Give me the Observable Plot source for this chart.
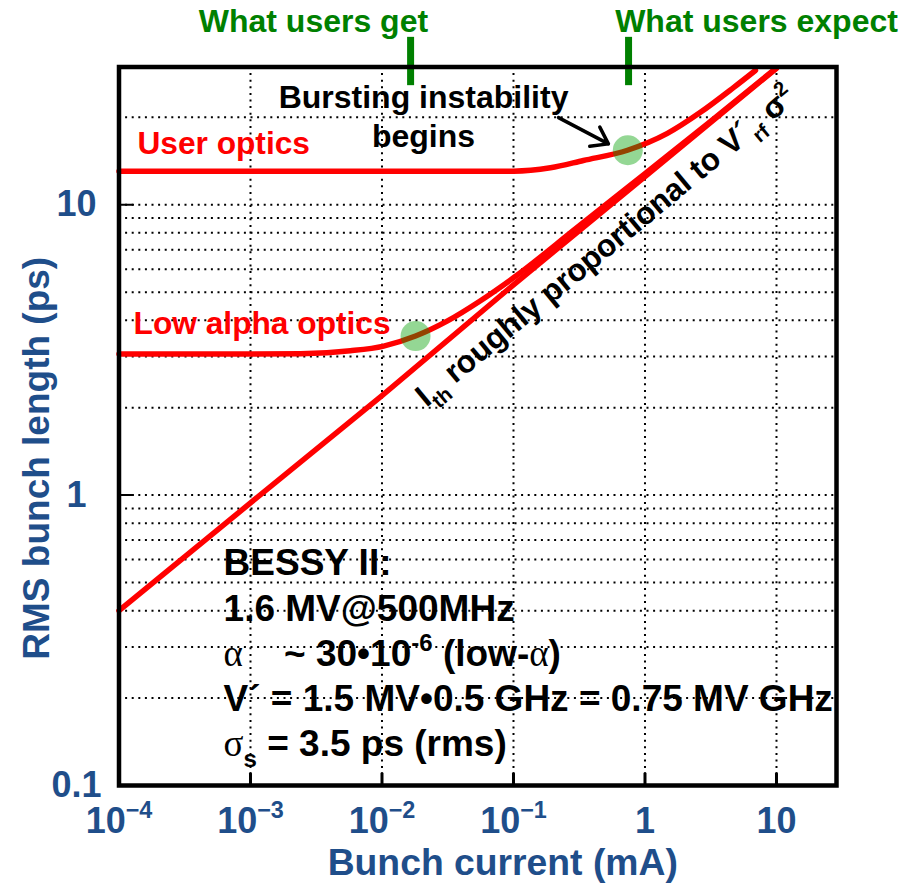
<!DOCTYPE html>
<html><head><meta charset="utf-8">
<script src="https://cdn.jsdelivr.net/npm/d3@7"></script>
<script src="https://cdn.jsdelivr.net/npm/@observablehq/plot@0.6"></script>
<style>
html,body{margin:0;padding:0;background:#fff;}
#chart svg text{white-space:pre;}
</style></head><body><div id="chart"></div>
<script>
// ---- data (bunch current in mA, RMS bunch length in ps) ----
const thresholdCurrent = [1e-4, 1e-3, 1e-2, 1e-1, 1, 10];
const thresholdLength  = [0.40, 0.94, 2.2, 5.3, 12.5, 29.5];

const lowAlphaCurrent = [1e-4, 1e-3, 0.0024, 0.00575, 0.0103, 0.018, 0.0315, 0.0561, 0.1, 0.3, 1, 3, 10];
const lowAlphaLength  = [3.06, 3.06, 3.07, 3.14, 3.26, 3.53, 3.98, 4.67, 5.6, 8.3, 12.8, 19.0, 29.6];

const userCurrent = [1e-4, 1e-3, 1e-2, 0.1, 0.191, 0.34, 0.736, 1.48, 2.64, 4.71, 6.92];
const userLength  = [13.05, 13.05, 13.05, 13.05, 13.4, 14.2, 15.4, 17.6, 20.8, 25.3, 29.0];

const onsetCurrent = [0.018, 0.74];
const onsetLength  = [3.53, 15.4];

const markerCurrent = [0.0165, 0.75];          // "What users get" / "What users expect"
const markerLabels  = ["What users get", "What users expect"];

const xTickValues = [1e-4, 1e-3, 1e-2, 1e-1, 1, 10];
const xTickLabels = ["10^{−4}", "10^{−3}", "10^{−2}", "10^{−1}", "1", "10"];
const xGridValues = [1e-3, 1e-2, 1e-1, 1, 10];
const yTickValues = [0.1, 1, 10];
const yTickLabels = ["0.1", "1", "10"];
const yGridValues = [0.2,0.3,0.4,0.5,0.6,0.7,0.8,0.9,1,2,3,4,5,6,7,8,9,10,20];

const bessyLines = [
  "BESSY II:",
  "1.6 MV@500MHz",
  "%{α}    ~ 30•10^{-6} (low-%{α})",
  "V´ = 1.5 MV•0.5 GHz = 0.75 MV GHz",
  "%{σ}_{s} = 3.5 ps (rms)"
];

// annotation anchors, in data units (mA, ps)
const curveLabels = [
  {text: "User optics", x: 1.38e-4, y: 15.0},
  {text: "Low alpha optics", x: 1.29e-4, y: 3.59}
];
const burstLabels = [
  {text: "Bursting instability", x: 0.0207, y: 21.6},
  {text: "begins", x: 0.0207, y: 15.85}
];
const markerLabelPos = [{x: 0.00301, y: 39.2}, {x: 7.05, y: 39.2}];
const bessyPos = {x: 6.24e-4, y: [0.530, 0.368, 0.257, 0.180, 0.126]};
const slopeLabel = {text: "I_{th} roughly proportional to V´_{rf} σ^{2}", x: 0.0218, y: 2.0};
const arrowData = [{x1: 0.22, y1: 19.95, x2: 0.527, y2: 16.2}];

// ---- build ----
const BLUE = "#1f4e8a", RED = "#ff0000", GREEN = "#008000";
const FONT = "Liberation Sans, Arial, Helvetica, sans-serif";
const zip = (a, b) => a.map((v, i) => ({x: v, y: b[i]}));

const tickUp = {draw(ctx, l) { ctx.moveTo(0, 0); ctx.lineTo(0, -l); }};
const tickRight = {draw(ctx, l) { ctx.moveTo(0, 0); ctx.lineTo(l, 0); }};

const chart = Plot.plot({
  width: 904,
  height: 884,
  marginLeft: 118.5,
  marginRight: 68,
  marginTop: 66.5,
  marginBottom: 99,
  style: {fontFamily: FONT, background: "white", overflow: "visible"},
  x: {type: "log", domain: [1e-4, 28.6], axis: null},
  y: {type: "log", domain: [0.1, 29.8], axis: null},
  marks: [
    Plot.ruleY(yGridValues, {y: d => d, stroke: "black", strokeWidth: 2, strokeDasharray: "2,4.6"}),
    Plot.ruleX(xGridValues, {x: d => d, stroke: "black", strokeWidth: 2, strokeDasharray: "2,4.6"}),
    Plot.line(zip(thresholdCurrent, thresholdLength), {x: "x", y: "y", stroke: RED, strokeWidth: 5.5}),
    Plot.line(zip(lowAlphaCurrent, lowAlphaLength), {x: "x", y: "y", stroke: RED, strokeWidth: 5.5, curve: "monotone-x"}),
    Plot.line(zip(userCurrent, userLength), {x: "x", y: "y", stroke: RED, strokeWidth: 5.5, curve: "monotone-x"}),
    Plot.dot(zip(onsetCurrent, onsetLength), {x: "x", y: "y", r: 15, fill: "#00a000", fillOpacity: 0.42, stroke: null}),
    Plot.ruleX(markerCurrent, {x: d => d, y1: 25.7, y2: 37.7, stroke: GREEN, strokeWidth: 7}),
    Plot.text(markerLabels, {text: d => d, x: (d, i) => markerLabelPos[i].x, y: (d, i) => markerLabelPos[i].y,
      textAnchor: "middle", lineAnchor: "bottom", fill: GREEN, fontSize: 32, fontWeight: "bold"}),
    Plot.text(curveLabels, {text: "text", x: "x", y: "y", textAnchor: "start", lineAnchor: "bottom",
      fill: RED, fontSize: 31.7, fontWeight: "bold"}),
    Plot.text(burstLabels, {text: "text", x: "x", y: "y", textAnchor: "middle", lineAnchor: "bottom",
      fill: "black", fontSize: 32, fontWeight: "bold"}),
    Plot.arrow(arrowData, {x1: "x1", y1: "y1", x2: "x2", y2: "y2", stroke: "black", strokeWidth: 3.5,
      headLength: 9, headAngle: 70}),
    Plot.text([slopeLabel], {text: "text", x: "x", y: "y", rotate: -39.6, textAnchor: "start", lineAnchor: "bottom",
      fill: "black", fontSize: 31.5, fontWeight: "bold"}),
    Plot.text(bessyLines, {text: d => d, x: () => bessyPos.x, y: (d, i) => bessyPos.y[i], textAnchor: "start",
      lineAnchor: "bottom", fill: "black", fontSize: 37, fontWeight: "bold"}),
    // inward tick marks
    Plot.vector(xTickValues.slice(1), {x: d => d, frameAnchor: "bottom", length: 12, shape: tickUp, anchor: "start",
      stroke: "black", strokeWidth: 3}),
    Plot.vector(yTickValues.slice(1), {y: d => d, frameAnchor: "left", length: 14, shape: tickRight, anchor: "start",
      stroke: "black", strokeWidth: 2}),
    Plot.frame({stroke: "black", strokeWidth: 4.5}),
    // tick labels
    Plot.text(xTickValues, {x: d => d, text: (d, i) => xTickLabels[i], frameAnchor: "bottom", dy: 22,
      lineAnchor: "top", textAnchor: "middle", fill: BLUE, fontSize: 36, fontWeight: "bold"}),
    Plot.text(yTickValues, {y: d => d, text: (d, i) => yTickLabels[i], frameAnchor: "left", dx: -42.5,
      lineAnchor: "middle", textAnchor: "middle", fill: BLUE, fontSize: 36, fontWeight: "bold"}),
    // axis titles
    Plot.text(["Bunch current (mA)"], {text: d => d, frameAnchor: "bottom", dx: 25, dy: 89, lineAnchor: "bottom",
      textAnchor: "middle", fill: BLUE, fontSize: 37.3, fontWeight: "bold"}),
    Plot.text(["RMS bunch length (ps)"], {text: d => d, frameAnchor: "left", dx: -70.5, dy: 32, rotate: -90,
      lineAnchor: "bottom", textAnchor: "middle", fill: BLUE, fontSize: 37, fontWeight: "bold"})
  ]
});
document.getElementById("chart").append(chart);

// rich text: _{sub}, ^{sup}, %{regular serif}
const svgNS = "http://www.w3.org/2000/svg";
chart.querySelectorAll("text").forEach(el => {
  const s = el.textContent;
  if (!/[_^%]\{/.test(s)) return;
  const fs = parseFloat(getComputedStyle(el).fontSize);
  const re = /([_^%])\{([^}]*)\}/g;
  const segs = []; let last = 0, m;
  while ((m = re.exec(s))) {
    if (m.index > last) segs.push({t: s.slice(last, m.index)});
    segs.push({t: m[2], k: m[1]});
    last = re.lastIndex;
  }
  if (last < s.length) segs.push({t: s.slice(last)});
  el.textContent = "";
  let base = 0;
  for (const seg of segs) {
    const ts = document.createElementNS(svgNS, "tspan");
    let off = 0;
    if (seg.k === "_") { off = 0.28 * fs; ts.setAttribute("font-size", 0.65 * fs); }
    else if (seg.k === "^") { off = -0.42 * fs; ts.setAttribute("font-size", 0.65 * fs); }
    else if (seg.k === "%") { ts.setAttribute("font-weight", "normal"); ts.setAttribute("font-family", "Liberation Serif, Times New Roman, serif"); }
    const dy = off - base;
    if (dy) ts.setAttribute("dy", dy);
    base = off;
    ts.textContent = seg.t;
    el.appendChild(ts);
  }
});
</script></body></html>
